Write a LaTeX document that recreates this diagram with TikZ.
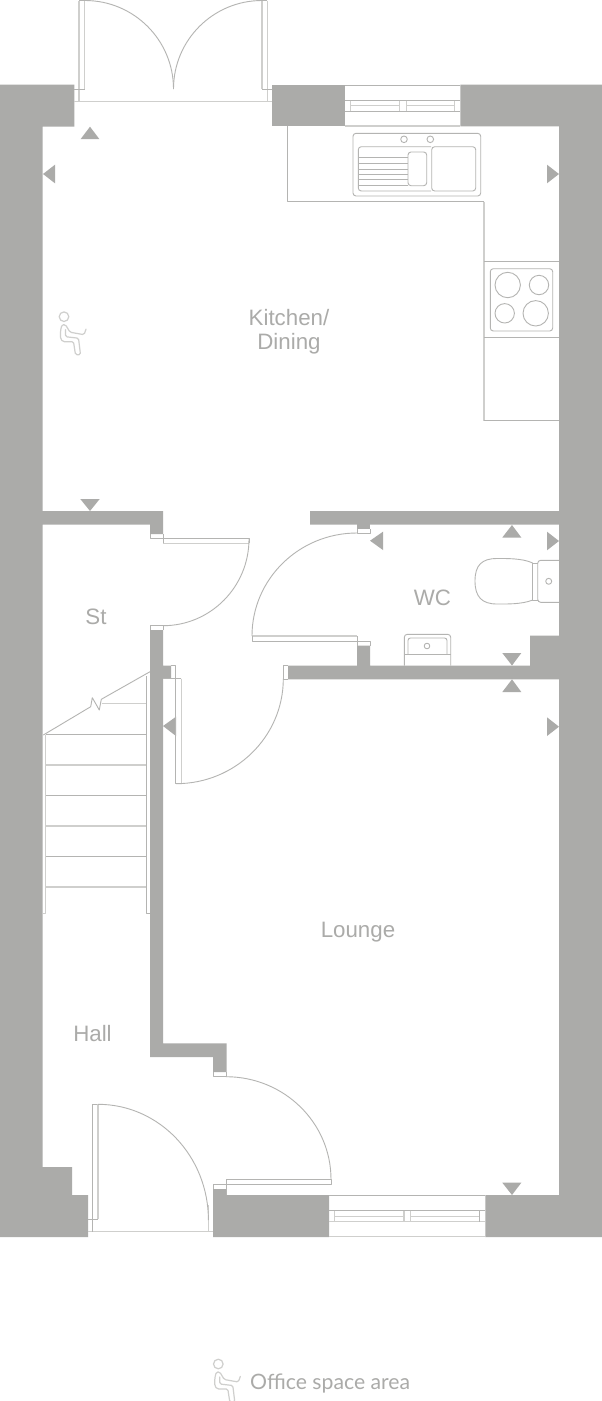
\documentclass[tikz,border=0pt]{standalone}
\usepackage{fontspec}
\setmainfont{Liberation Sans}
\newfontfamily\legendfont{Lato}
\definecolor{wallgrey}{HTML}{ABABA9}
\definecolor{linegrey}{HTML}{B4B4B2}
\definecolor{palegrey}{HTML}{CFCFCD}
\tikzset{
  x=1pt,y=-1pt,
  wall/.style={fill=wallgrey,draw=none},
  thin line/.style={draw=linegrey,line width=0.9pt,line join=round},
  pale line/.style={draw=palegrey,line width=1.4pt,line join=round},
  swing/.style={draw=linegrey,line width=0.9pt},
  fixture/.style={draw=linegrey,line width=0.9pt,rounded corners=3pt},
  roomlabel/.style={text=wallgrey,font=\fontsize{22.3}{24}\selectfont,align=center,inner sep=0pt},
  marker/.style={fill=wallgrey,draw=none},
  sitter/.pic={
    \draw[draw=palegrey,line width=1.2pt] (0,0) circle[radius=4.8];
    \draw[draw=palegrey,line width=1.2pt,rounded corners=1.5pt,line cap=round,line join=round]
      (22,12.5)--(20,18)--(6,15.5)--(1.5,8)--(-2,8)--(-3.5,14)--(-3.5,22)--(-1,25)--(9.5,25)--(11.5,38)--(16.5,38)--(14.5,21.5)--(1.5,20)--(1.5,13);
  }
}
\begin{document}
\begin{tikzpicture}
\useasboundingbox[fill=white] (0,0) rectangle (602,1401);
% walls
\fill[wall] (0,84.5)--(74.3,84.5)--(74.3,126.7)--(42.7,126.7)--(42.7,511)--(163,511)--(163,534)--(150,534)--(150,524.7)--(42.7,524.7)--(42.7,1167)--(72,1167)--(72,1195)--(88,1195)--(88,1237)--(0,1237)--cycle;
\fill[wall] (272,84.5)--(345,84.5)--(345,126.3)--(272,126.3)--cycle;
\fill[wall] (460.3,84.5)--(602,84.5)--(602,1237)--(485.3,1237)--(485.3,1195)--(559,1195)--(559,679.3)--(288,679.3)--(288,665.5)--(357,665.5)--(357,645.7)--(370,645.7)--(370,665.5)--(530,665.5)--(530,635.7)--(559,635.7)--(559,524.7)--(310,524.7)--(310,511)--(559,511)--(559,126.3)--(460.3,126.3)--cycle;
\fill[wall] (150,630)--(163,630)--(163,665.7)--(171,665.7)--(171,678.7)--(163,678.7)--(163,1043.3)--(213,1043.3)--(226.5,1043.3)--(226.5,1072)--(213,1072)--(213,1057)--(150,1057)--cycle;
\fill[wall] (213,1189)--(226,1189)--(226,1195)--(329,1195)--(329,1237)--(213,1237)--cycle;
\fill[wall] (357,524) rectangle (370,528.5);
% markers
\fill[marker] (90,126.7)--(99.3,139)--(80.7,139)--cycle;
\fill[marker] (43,174)--(55,164.7)--(55,183.3)--cycle;
\fill[marker] (559,174)--(547,164.7)--(547,183.3)--cycle;
\fill[marker] (90,511)--(99.7,499)--(80.3,499)--cycle;
\fill[marker] (163,726)--(176,716.7)--(176,736)--cycle;
\fill[marker] (370,540.7)--(383,531.7)--(383,550)--cycle;
\fill[marker] (512,525)--(521.3,537.5)--(502.3,537.5)--cycle;
\fill[marker] (559,541)--(547,531.7)--(547,550.3)--cycle;
\fill[marker] (512,665.5)--(521.3,653)--(502.3,653)--cycle;
\fill[marker] (512,679.3)--(521.3,692)--(502.3,692)--cycle;
\fill[marker] (559,726.7)--(547,717.3)--(547,736)--cycle;
\fill[marker] (512,1195)--(521.3,1182.7)--(502.3,1182.7)--cycle;
% patio doors
\draw[pale line] (74,101.5)--(272,101.5);
\draw[pale line] (79,0.6)--(79,101.5) (267.3,0.6)--(267.3,101.5);
\draw[pale line] (84.7,0.6)--(84.7,89) (262,0.6)--(262,89);
\draw[thin line] (79,0.6)--(85,0.6) (262,0.6)--(267.3,0.6) (74.3,89)--(84.7,89) (262,89)--(272,89);
\draw[swing] (85,0.5) .. controls (133.9,0.5) and (173.5,40.1) .. (173.5,89);
\draw[swing] (262,0.5) .. controls (213.1,0.5) and (173.5,40.1) .. (173.5,89);
% top window
\draw[thin line] (345,85)--(460.3,85);
\draw[pale line] (345,126)--(460.3,126);
\draw[thin line] (345,100.5)--(460.3,100.5);
\draw[pale line] (351,105.7)--(399.7,105.7) (406.3,105.7)--(454.3,105.7);
\draw[thin line] (345,111)--(460.3,111);
\draw[pale line] (350.7,100.5)--(350.7,111) (399.7,100.5)--(399.7,111) (406.3,100.5)--(406.3,111) (454.3,100.5)--(454.3,111);
% kitchen worktop
\draw[thin line] (287,126.3)--(287,201.7)--(484,201.7);
\draw[pale line] (484,201.7)--(484,420.7);
\draw[thin line] (484,420.7)--(559,420.7) (484,261.7)--(559,261.7) (484,337.3)--(559,337.3);
% sink
\draw[fixture] (353,133.3) rectangle (480.7,196);
\draw[thin line] (404,139.3) circle[radius=3.3] (430.3,139.3) circle[radius=3.3];
\draw[fixture] (431,146.7)--(358.3,146.7)--(358.3,191)--(431,191);
\draw[fixture] (431.7,146.7) rectangle (475.7,191);
\draw[thin line] (359,157.7)--(408,157.7) (359,163.3)--(408,163.3) (359,169)--(408,169) (359,174.3)--(408,174.3) (359,179.7)--(408,179.7) (359,185.3)--(408,185.3);
\draw[fixture,fill=white] (408,152) rectangle (426.7,185.7);
% hob
\draw[fixture] (490.3,268.7) rectangle (552.7,331);
\draw[thin line] (507.7,285) circle[radius=12.7] (539,285) circle[radius=9.7] (504.7,313.3) circle[radius=9.7] (535.7,313.3) circle[radius=12.7];
% store door
\draw[pale line] (163,543.3)--(249,543.3);
\draw[thin line] (150,534)--(150,538.7)--(249,538.7)--(249,543.3) (163,543.3)--(163,534);
\draw[swing] (249,539) .. controls (249,586.9) and (210.5,625.7) .. (163,625.7);
\draw[thin line] (150,630)--(150,625.7)--(163,625.7)--(163,630);
% hall/lounge door
\draw[thin line] (171,665.7)--(175.7,665.7)--(175.7,783.7)--(181.3,783.7) (181.3,678.7)--(163,678.7);
\draw[pale line] (181.3,678.7)--(181.3,783.7);
\draw[swing] (176,783.7) .. controls (235.3,783.7) and (283.3,736.7) .. (283.3,678.7);
\draw[thin line] (283.3,679)--(283.3,665.5)--(288,665.5) (283.3,679)--(288,679);
% WC door
\draw[pale line] (252,636)--(357,636);
\draw[thin line] (357,636)--(357,645.7) (252,636)--(252,641.7)--(370,641.7)--(370,645.7);
\draw[swing] (252,636) .. controls (252,579.1) and (299,533) .. (357,533);
\draw[thin line] (357,528.5)--(357,533)--(370,533)--(370,528.5);
% WC fixtures
\draw[fixture] (559,560.3)--(537.7,560.3)--(537.7,602.3)--(559,602.3);
\draw[thin line] (548.7,581.3) circle[radius=3];
\draw[thin line] (537.7,563)--(532.7,563)--(532.7,600)--(537.7,600);
\draw[thin line] (532.7,563) .. controls (522,558) and (505,558.5) .. (497,558.5) .. controls (482,558.5) and (475,565) .. (475,581) .. controls (475,597) and (482,604) .. (497,604) .. controls (505,604) and (522,604.5) .. (532.7,600);
\draw[thin line,rounded corners=3pt] (404.3,665.5)--(404.3,634.3)--(450.7,634.3)--(450.7,665.5);
\draw[thin line,rounded corners=2.5pt] (408,654)--(408,638)--(447,638)--(447,654);
\draw[thin line] (404.3,654)--(450.7,654);
\draw[thin line] (427,646) circle[radius=2.8];
% stairs
\draw[thin line] (43.3,735)--(90.7,706.7)--(92.3,697.7)--(99.3,710)--(101.3,699.3)--(150,671.7);
\draw[pale line] (101.5,703.7)--(146.7,703.7);
\draw[thin line] (45.7,734.3)--(146.7,734.3) (45.7,795.7)--(146.7,795.7) (45.7,856.7)--(146.7,856.7);
\draw[pale line] (45.7,765)--(146.7,765) (45.7,826)--(146.7,826) (45.7,887)--(146.7,887);
\draw[pale line] (45.7,735)--(45.7,913.7)--(43,913.7);
\draw[thin line] (146.7,676)--(146.7,913.7)--(150,913.7);
% lounge door
\draw[thin line] (213,1189)--(213,1184.3)--(331,1184.3)--(331,1179.3)--(226,1179.3)--(226,1195);
\draw[swing] (331,1179.3) .. controls (331,1122.6) and (284,1076.7) .. (226,1076.7);
\draw[thin line] (213,1072)--(213,1076.7)--(226.5,1076.7)--(226.5,1072);
% entrance door
\draw[pale line] (88,1231.7)--(213,1231.7);
\draw[thin line] (92.3,1104.3)--(92.3,1231.7) (92.3,1104.3)--(98,1104.3) (88,1219.3)--(98,1219.3);
\draw[pale line] (98,1104.3)--(98,1219.3) (208.4,1205)--(208.4,1231.7);
\draw[swing] (98,1104.3) .. controls (159,1104.3) and (208.4,1156) .. (208.4,1220);
% bottom window
\draw[thin line] (329,1195.3)--(485.3,1195.3) (329,1210.7)--(485.3,1210.7);
\draw[pale line] (329,1236.6)--(485.3,1236.6) (329,1221.7)--(485.3,1221.7) (334.7,1216.7)--(404,1216.7) (410.5,1216.7)--(479.7,1216.7);
\draw[pale line] (334.7,1210.7)--(334.7,1221.7) (404,1210.7)--(404,1221.7) (410.5,1210.7)--(410.5,1221.7);
\draw[thin line] (479.7,1210.7)--(479.7,1221.7);
% labels
\node[roomlabel] (kitchen) at (289,332) {Kitchen/\\Dining};
\node[roomlabel] (wc) at (432.5,597.5) {WC};
\node[roomlabel] (st) at (96,616.5) {St};
\node[roomlabel] (lounge) at (358,932) {Lounge};
\node[roomlabel] (hall) at (92.5,1033.5) {Hall};
\pic at (64,316.7) {sitter};
\pic at (218.3,1364) {sitter};
\node[text=wallgrey,font=\legendfont\fontsize{21.2}{24}\selectfont,inner sep=0pt,anchor=west] (legend) at (250,1383.5) {Office space area};
\end{tikzpicture}
\end{document}
